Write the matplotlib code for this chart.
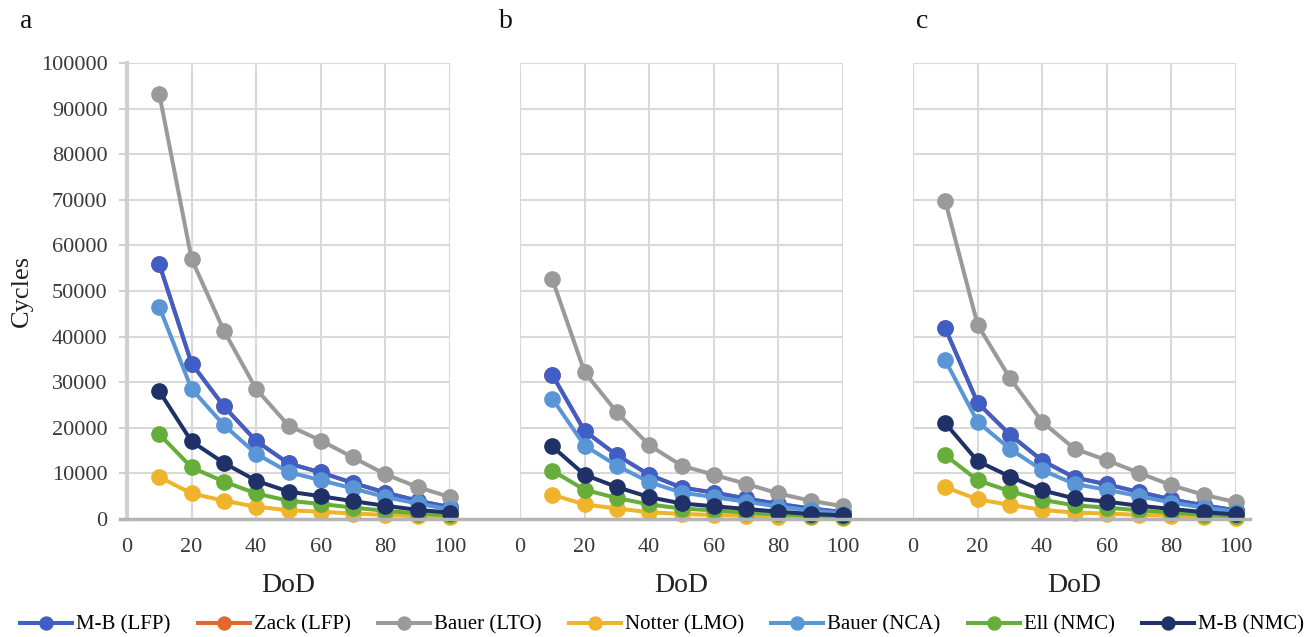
import matplotlib
matplotlib.use("Agg")
import matplotlib.pyplot as plt
from matplotlib.lines import Line2D

plt.rcParams['font.family'] = ['Liberation Serif', 'DejaVu Serif']

dod = [10, 20, 30, 40, 50, 60, 70, 80, 90, 100]

series_names = ['M-B (LFP)', 'Zack (LFP)', 'Bauer (LTO)', 'Notter (LMO)',
                'Bauer (NCA)', 'Ell (NMC)', 'M-B (NMC)']
colors = ['#3f5fc6', '#e2682c', '#9a9a9a', '#f0b42c', '#5a96d6', '#66ad3a', '#1f3166']

# panel a
a_mb_lfp = [55900, 34100, 24700, 17100, 12200, 10200, 7900, 5800, 4000, 2600]
a_zack_lfp = [55900, 34100, 24700, 17100, 12200, 10200, 7900, 5800, 4000, 2600]
a_bauer_lto = [93200, 57000, 41300, 28500, 20500, 17200, 13500, 9800, 7000, 4800]
a_notter_lmo = [9200, 5600, 4000, 2700, 1900, 1600, 1200, 900, 600, 400]
a_bauer_nca = [46500, 28500, 20600, 14300, 10300, 8500, 6700, 4800, 3400, 2100]
a_ell_nmc = [18600, 11300, 8200, 5600, 4000, 3300, 2500, 1800, 1200, 800]
a_mb_nmc = [28000, 17000, 12300, 8400, 6000, 5000, 3900, 2900, 2000, 1400]

# panel b
b_mb_lfp = [31600, 19300, 14000, 9700, 6900, 5800, 4500, 3300, 2300, 1500]
b_zack_lfp = [31600, 19300, 14000, 9700, 6900, 5800, 4500, 3300, 2300, 1500]
b_bauer_lto = [52600, 32200, 23400, 16200, 11700, 9700, 7700, 5600, 4000, 2800]
b_notter_lmo = [5300, 3200, 2300, 1500, 1100, 900, 700, 500, 350, 250]
b_bauer_nca = [26400, 16100, 11700, 8100, 5800, 4800, 3800, 2700, 1900, 1200]
b_ell_nmc = [10600, 6400, 4600, 3200, 2300, 1900, 1400, 1000, 700, 450]
b_mb_nmc = [15900, 9700, 7000, 4800, 3400, 2800, 2200, 1600, 1100, 800]

# panel c
c_mb_lfp = [41800, 25500, 18500, 12800, 9100, 7600, 5900, 4300, 3000, 1900]
c_zack_lfp = [41800, 25500, 18500, 12800, 9100, 7600, 5900, 4300, 3000, 1900]
c_bauer_lto = [69700, 42600, 30900, 21300, 15400, 12900, 10100, 7400, 5300, 3700]
c_notter_lmo = [7000, 4300, 3100, 2000, 1400, 1200, 900, 700, 450, 300]
c_bauer_nca = [34800, 21300, 15400, 10700, 7700, 6400, 5000, 3600, 2500, 1600]
c_ell_nmc = [14000, 8500, 6100, 4200, 3000, 2500, 1900, 1400, 900, 600]
c_mb_nmc = [21000, 12700, 9300, 6300, 4500, 3800, 2900, 2200, 1500, 1000]

panels = {
    'a': [a_mb_lfp, a_zack_lfp, a_bauer_lto, a_notter_lmo, a_bauer_nca, a_ell_nmc, a_mb_nmc],
    'b': [b_mb_lfp, b_zack_lfp, b_bauer_lto, b_notter_lmo, b_bauer_nca, b_ell_nmc, b_mb_nmc],
    'c': [c_mb_lfp, c_zack_lfp, c_bauer_lto, c_notter_lmo, c_bauer_nca, c_ell_nmc, c_mb_nmc],
}

W, H = 1306, 637
fig = plt.figure(figsize=(W / 100, H / 100), dpi=100)

lefts = [127, 520, 913]
letter_x = [20, 499, 916]
ax_w = 323
ax_bottom = 519
ax_top = 63

axes = []
for i, (letter, data) in enumerate(panels.items()):
    ax = fig.add_axes([lefts[i] / W, (H - ax_bottom) / H, ax_w / W, (ax_bottom - ax_top) / H])
    axes.append(ax)
    for j, (name, vals) in enumerate(zip(series_names, data)):
        z = 2 if name == 'Zack (LFP)' else 3 + j
        ax.plot(dod, vals, color=colors[j], lw=2.9, marker='o', ms=11,
                label=name, zorder=z, clip_on=False)
    ax.set_xlim(0, 100)
    ax.set_ylim(0, 100000)
    ax.set_xticks(range(0, 101, 20))
    ax.set_yticks(range(0, 100001, 10000))
    ax.grid(True, color='#d9d9d9', lw=1.5, zorder=0)
    ax.set_axisbelow(True)
    for s in ax.spines.values():
        s.set_visible(False)
    ax.tick_params(axis='x', length=0, pad=14, labelsize=16, labelcolor='#3a3a3a')
    if i == 0:
        ax.spines['left'].set_visible(True)
        ax.spines['left'].set_color('#d0d0d0')
        ax.spines['left'].set_linewidth(3)
        ax.tick_params(axis='y', length=6, width=1.2, color='#c8c8c8', pad=8,
                       labelsize=16, labelcolor='#3a3a3a')
        ax.set_ylabel('Cycles', fontsize=19, labelpad=6, color='#222222')
    else:
        ax.tick_params(axis='y', length=0, labelleft=False)
    ax.set_xlabel('DoD', fontsize=20, labelpad=11, color='#222222')
    fig.text(letter_x[i] / W, 1 - 22 / H, letter,
             fontsize=20, ha='left', va='center', color='#111111')

# continuous grey baseline under all three panels
fig.add_artist(Line2D([120 / W, 1250 / W], [(H - ax_bottom) / H] * 2,
                      transform=fig.transFigure, color='#b4b4b4', lw=2.5, zorder=1))

handles, labels = axes[0].get_legend_handles_labels()
fig.legend(handles, labels, loc='center', bbox_to_anchor=(0.507, 1 - 625 / H), ncol=7,
           frameon=False, fontsize=15, handlelength=2.5, columnspacing=1.3,
           handletextpad=0.2, markerscale=0.85)

fig.savefig('out.png', dpi=100)
